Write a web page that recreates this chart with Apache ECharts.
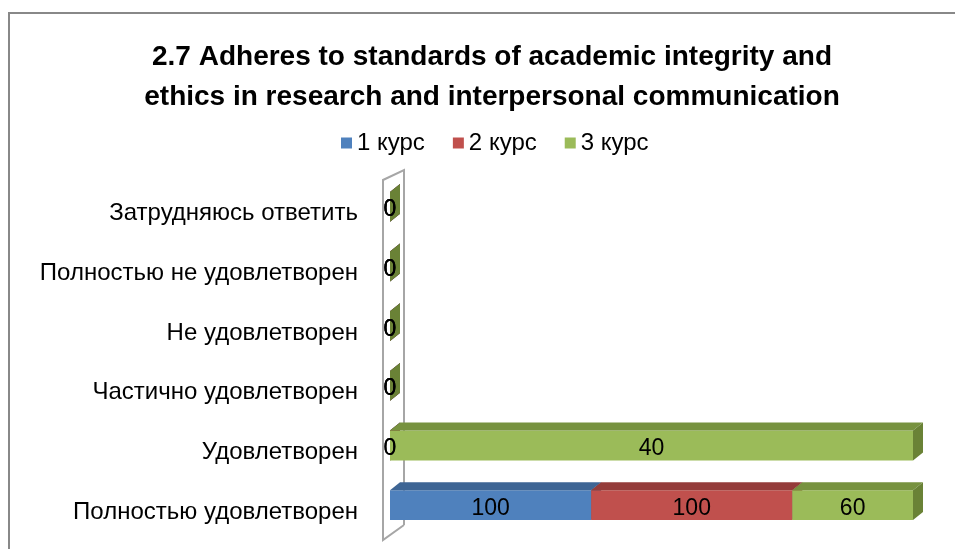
<!DOCTYPE html>
<html>
<head>
<meta charset="utf-8">
<script src="https://cdn.jsdelivr.net/npm/echarts@6/dist/echarts.min.js"></script>
<style>
  html, body { margin: 0; padding: 0; background: #fff; }
  #chart { width: 955px; height: 549px; }
</style>
</head>
<body>
<div id="chart"></div>
<script>
// категории снизу вверх
const categories = [
  "Полностью удовлетворен",
  "Удовлетворен",
  "Частично удовлетворен",
  "Не удовлетворен",
  "Полностью не удовлетворен",
  "Затрудняюсь ответить"
];
const seriesNames = ["1 курс", "2 курс", "3 курс"];
const kurs1 = [100, 0, 0, 0, 0, 0];
const kurs2 = [100, 0, 0, 0, 0, 0];
const kurs3 = [60, 40, 0, 0, 0, 0];

const front = ["#4F81BD", "#C0504D", "#9BBB59"];
const topFace = ["#3E6594", "#943C3A", "#77923F"];
const sideFace = ["#34577F", "#7F3331", "#6A8236"];

const FONT = "Liberation Sans, Arial, sans-serif";
const DX = 10, DY = 8;

// 100% stacked: start/end in percent per category
const raw = [kurs1, kurs2, kurs3];
const totals = categories.map((c, i) => raw.reduce((s, a) => s + a[i], 0));
const stacked = raw.map((arr, si) => arr.map((v, i) => {
  const before = raw.slice(0, si).reduce((s, a) => s + a[i], 0);
  const t = totals[i] || 1;
  return [i, before / t * 100, (before + v) / t * 100, v];
}));

function renderBar(si) {
  return function (params, api) {
    const ci = api.value(0);
    const p0 = api.coord([api.value(1), ci]);
    const p1 = api.coord([api.value(2), ci]);
    const h = api.size([0, 1])[1] * 0.5;
    const top = p0[1] - h / 2, bottom = p0[1] + h / 2;
    const x0 = p0[0], x1 = p1[0];
    return {
      type: "group",
      children: [
        { type: "rect", shape: { x: x0, y: top, width: x1 - x0, height: h },
          style: { fill: front[si] } },
        { type: "polygon", shape: { points: [[x0, top], [x0 + DX, top - DY], [x1 + DX, top - DY], [x1, top]] },
          style: { fill: topFace[si] } },
        { type: "polygon", shape: { points: [[x1, top], [x1 + DX, top - DY], [x1 + DX, bottom - DY], [x1, bottom]] },
          style: { fill: sideFace[si] } },
        { type: "text", z2: 10,
          style: { text: String(api.value(3)), x: (x0 + x1) / 2, y: p0[1] + 3,
            align: "center", verticalAlign: "middle", fill: "#000", font: "23px " + FONT } }
      ]
    };
  };
}

const chart = echarts.init(document.getElementById("chart"));
const option = {
  backgroundColor: "#fff",
  animation: false,
  title: {
    text: "2.7 Adheres to standards of academic integrity and\nethics in research and interpersonal communication",
    left: 487,
    textAlign: "center",
    top: 32,
    textStyle: { fontFamily: FONT, fontWeight: "bold", fontSize: 28, lineHeight: 40, color: "#000" }
  },
  legend: {
    data: seriesNames,
    top: 126,
    left: 336,
    icon: "rect",
    itemWidth: 11,
    itemHeight: 11,
    itemGap: 28,
    textStyle: { fontFamily: FONT, fontSize: 24, color: "#000" }
  },
  grid: { left: 390, right: 42, top: 177, bottom: 14 },
  xAxis: { type: "value", min: 0, max: 100, show: false },
  yAxis: {
    type: "category",
    data: categories,
    axisLine: { show: false },
    axisTick: { show: false },
    axisLabel: {
      margin: 32,
      formatter: v => "{c|" + v + "}",
      rich: { c: { fontFamily: FONT, fontSize: 24, color: "#000", padding: [14, 0, 0, 0] } }
    }
  },
  graphic: [
    { type: "rect", shape: { x: 9, y: 13, width: 1000, height: 600 },
      style: { fill: "none", stroke: "#888", lineWidth: 2 }, z: -10 },
    { type: "polyline", shape: { points: [[404, 525], [404, 170], [383, 180], [383, 540], [404, 525]] },
      style: { fill: "none", stroke: "#A6A6A6", lineWidth: 2 }, z: -5 }
  ],
  series: seriesNames.map((name, si) => ({
    name: name,
    type: "custom",
    renderItem: renderBar(si),
    itemStyle: { color: front[si] },
    encode: { x: [1, 2], y: 0 },
    data: stacked[si]
  }))
};
chart.setOption(option);
</script>
</body>
</html>
